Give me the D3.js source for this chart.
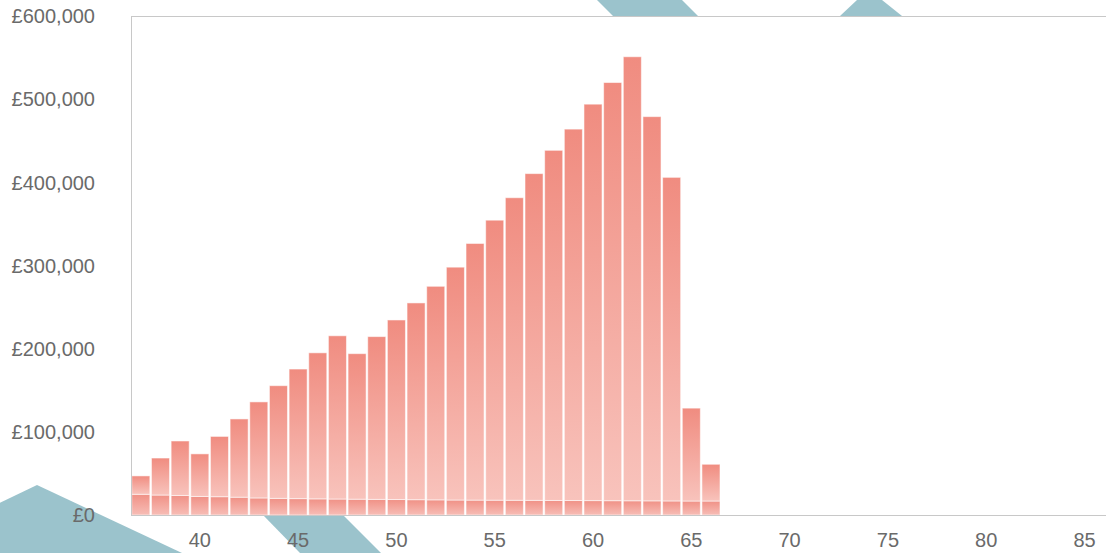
<!DOCTYPE html>
<html>
<head>
<meta charset="utf-8">
<script src="https://cdnjs.cloudflare.com/ajax/libs/d3/7.8.5/d3.min.js"></script>
<style>
  html, body { margin: 0; padding: 0; background: #fff; }
  svg { display: block; }
  text { font-family: "Liberation Sans", Arial, sans-serif; }
</style>
</head>
<body>
<svg id="chart" width="1106" height="553"></svg>
<script>
// Age of each bar
const ages = [37, 38, 39, 40, 41, 42, 43, 44, 45, 46, 47, 48, 49, 50, 51,
              52, 53, 54, 55, 56, 57, 58, 59, 60, 61, 62, 63, 64, 65, 66];

// Lower stacked series (£)
const baseValues = [24900, 24000, 23500, 22300, 22000, 21400, 20500, 20000, 19700, 19400,
                    19200, 19000, 18800, 18600, 18400, 18200, 18000, 17900, 17800, 17700,
                    17600, 17500, 17400, 17300, 17200, 17100, 17000, 16900, 16800, 16800];

// Upper stacked series (£)
const growthValues = [22100, 44500, 65500, 51200, 72500, 94100, 115500, 135500, 155800, 175600,
                      196300, 175000, 195700, 215900, 236600, 256800, 280000, 308600, 336700, 363800,
                      392900, 421000, 446600, 476700, 502800, 533900, 462000, 389100, 111700, 44200];

const xTicks = [40, 45, 50, 55, 60, 65, 70, 75, 80, 85];
const yTicks = [0, 100000, 200000, 300000, 400000, 500000, 600000];

const W = 1106, H = 553;
const plot = { left: 131, top: 16, bottom: 515, right: 1114 };

const svg = d3.select("#chart");

// Decorative background stripes
const stripes = [
  [[597, 0], [682, 0], [698, 16], [613, 16]],
  [[857, 0], [882, 0], [902, 16], [840, 16]],
  [[37, 485], [182, 553], [-40, 553], [-40, 522]],
  [[263, 515], [343, 515], [381, 553], [300, 553]]
];
svg.append("g").selectAll("polygon")
  .data(stripes)
  .join("polygon")
  .attr("points", d => d.map(p => p.join(",")).join(" "))
  .attr("fill", "#9bc3cc");

// Plot background
svg.append("rect")
  .attr("x", plot.left).attr("y", plot.top)
  .attr("width", plot.right - plot.left).attr("height", plot.bottom - plot.top)
  .attr("fill", "#fff");

const x = d3.scaleLinear().domain([36.5, 86.5]).range([plot.left, plot.right]);
const y = d3.scaleLinear().domain([0, 600000]).range([plot.bottom, plot.top]);

// Gradients: darker at the top of each segment, paler toward its base
const defs = svg.append("defs");
function grad(id, top, bottom) {
  const g = defs.append("linearGradient").attr("id", id)
    .attr("x1", 0).attr("y1", 0).attr("x2", 0).attr("y2", 1);
  g.append("stop").attr("offset", "0%").attr("stop-color", top);
  g.append("stop").attr("offset", "100%").attr("stop-color", bottom);
}
grad("gUpper", "#f08c80", "#f8c3bc");
grad("gBase", "#f09186", "#f7bdb6");

const stackData = ages.map((a, i) => ({ age: a, base: baseValues[i], growth: growthValues[i] }));
const series = d3.stack().keys(["base", "growth"])(stackData);
const fills = { base: "url(#gBase)", growth: "url(#gUpper)" };

const step = x(1) - x(0);
const barW = step - 1.6;

svg.append("g").selectAll("g")
  .data(series)
  .join("g")
  .attr("fill", d => fills[d.key])
  .selectAll("rect")
  .data(d => d)
  .join("rect")
  .attr("x", d => x(d.data.age) - barW / 2)
  .attr("width", barW)
  .attr("y", d => y(d[1]))
  .attr("height", d => y(d[0]) - y(d[1]))
  .attr("stroke", "rgba(255,255,255,0.55)")
  .attr("stroke-width", 1);

// Frame lines
const frame = svg.append("g").attr("stroke", "#c8c8c8").attr("stroke-width", 1).attr("fill", "none");
frame.append("line").attr("x1", plot.left + 0.5).attr("x2", plot.left + 0.5)
  .attr("y1", plot.top).attr("y2", plot.bottom + 0.5);
frame.append("line").attr("x1", plot.left).attr("x2", W)
  .attr("y1", plot.top + 0.5).attr("y2", plot.top + 0.5);
frame.append("line").attr("x1", plot.left).attr("x2", W)
  .attr("y1", plot.bottom + 0.5).attr("y2", plot.bottom + 0.5);

// Y axis labels
const fmt = d3.format(",");
svg.append("g").selectAll("text")
  .data(yTicks)
  .join("text")
  .attr("x", 95)
  .attr("y", d => y(d))
  .attr("dy", "0.36em")
  .attr("text-anchor", "end")
  .attr("font-size", 20)
  .attr("fill", "#6a6a6a")
  .text(d => "£" + fmt(d));

// X axis labels
svg.append("g").selectAll("text")
  .data(xTicks)
  .join("text")
  .attr("x", d => x(d))
  .attr("y", 547)
  .attr("text-anchor", "middle")
  .attr("font-size", 20)
  .attr("fill", "#6a6a6a")
  .text(d => d);
</script>
</body>
</html>
